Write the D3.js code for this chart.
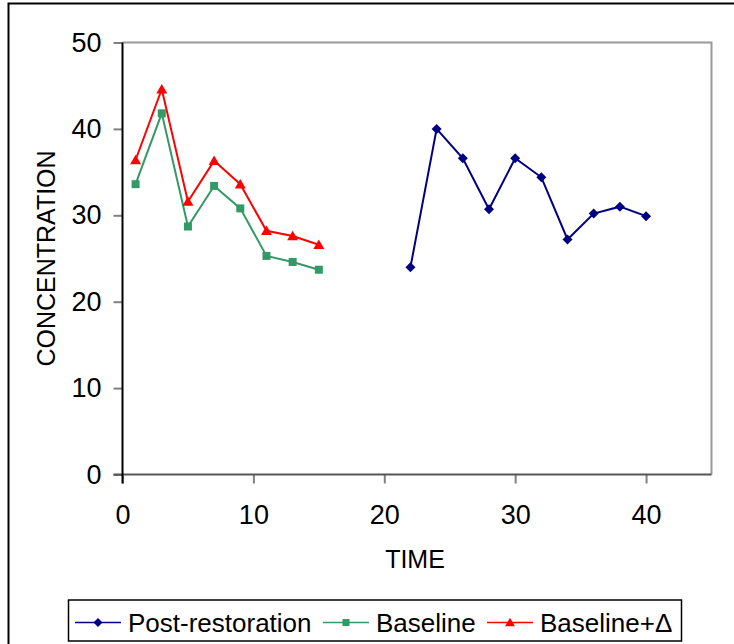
<!DOCTYPE html>
<html>
<head>
<meta charset="utf-8">
<script src="https://cdn.jsdelivr.net/npm/d3@7"></script>
<style>
  html, body { margin: 0; padding: 0; background: #fff; }
  svg { display: block; font-family: "Liberation Sans", Arial, sans-serif; }
</style>
</head>
<body>
<svg id="chart" width="734" height="644"></svg>
<script>
// ---- data ----
const postTime = [22, 24, 26, 28, 30, 32, 34, 36, 38, 40];
const postValues = [24.0, 40.0, 36.6, 30.7, 36.6, 34.4, 27.2, 30.2, 31.0, 29.9];
const baseTime = [1, 3, 5, 7, 9, 11, 13, 15];
const baseValues = [33.6, 41.8, 28.7, 33.4, 30.8, 25.3, 24.6, 23.7];
const deltaValues = [36.4, 44.6, 31.6, 36.3, 33.6, 28.2, 27.6, 26.6];
const xTicks = [0, 10, 20, 30, 40];
const yTicks = [0, 10, 20, 30, 40, 50];
const seriesNames = ["Post-restoration", "Baseline", "Baseline+\u0394"];

// ---- layout ----
const svg = d3.select("#chart");
const x = d3.scaleLinear().domain([0, 45]).range([122.5, 711.5]);
const y = d3.scaleLinear().domain([0, 50]).range([474.5, 42.5]);

// outer frame (extends past the window on right/bottom)
svg.append("rect").attr("x", 8.5).attr("y", 3.5).attr("width", 900).attr("height", 900)
  .attr("fill", "none").attr("stroke", "#000").attr("stroke-width", 2);

// plot area top & right borders
svg.append("path")
  .attr("d", `M${x(0)},${y(50)}H${x(45)}V${y(0)}`)
  .attr("fill", "none").attr("stroke", "#999").attr("stroke-width", 2);

// y axis
const yAxis = d3.axisLeft(y).tickValues(yTicks).tickSize(9).tickPadding(12).tickFormat(d3.format("d"));
const gy = svg.append("g").attr("transform", `translate(${x(0)},0)`).call(yAxis);
gy.select(".domain").remove();
gy.selectAll(".tick line").attr("stroke", "#808080").attr("stroke-width", 2);
gy.selectAll(".tick text").attr("font-size", 27).attr("fill", "#000")
  .attr("font-family", "Liberation Sans, Arial, sans-serif");

// x axis
const xAxis = d3.axisBottom(x).tickValues(xTicks).tickSize(9).tickPadding(21).tickFormat(d3.format("d"));
const gx = svg.append("g").attr("transform", `translate(0,${y(0)})`).call(xAxis);
gx.select(".domain").remove();
gx.selectAll(".tick line").attr("stroke", "#808080").attr("stroke-width", 2);
gx.selectAll(".tick text").attr("font-size", 27).attr("fill", "#000")
  .attr("font-family", "Liberation Sans, Arial, sans-serif");

// axis lines
svg.append("line").attr("x1", x(0) - 9).attr("x2", x(45)).attr("y1", y(0)).attr("y2", y(0))
  .attr("stroke", "#555").attr("stroke-width", 2);
svg.append("line").attr("x1", x(0)).attr("x2", x(0)).attr("y1", y(50)).attr("y2", y(0) + 9)
  .attr("stroke", "#000").attr("stroke-width", 2);

// axis titles
svg.append("text").attr("x", (x(0) + x(45)) / 2 - 2).attr("y", 568)
  .attr("text-anchor", "middle").attr("font-size", 25).text("TIME");
svg.append("text").attr("transform", `translate(55,${(y(0) + y(50)) / 2}) rotate(-90)`)
  .attr("text-anchor", "middle").attr("font-size", 25).text("CONCENTRATION");

// marker shapes
const diamond = s => `M0,${-s}L${s},0L0,${s}L${-s},0Z`;
const square = s => `M${-s},${-s}H${s}V${s}H${-s}Z`;
const triangle = s => `M0,${-s * 1.05}L${s * 1.1},${s * 0.85}H${-s * 1.1}Z`;

const series = [
  { name: seriesNames[1], xs: baseTime, ys: baseValues, color: "#339966", shape: square, size: 4 },
  { name: seriesNames[2], xs: baseTime, ys: deltaValues, color: "#ff0000", shape: triangle, size: 5 },
  { name: seriesNames[0], xs: postTime, ys: postValues, color: "#000080", shape: diamond, size: 5 }
];

const line = d3.line().x(d => x(d[0])).y(d => y(d[1]));
series.forEach(s => {
  const pts = s.xs.map((t, i) => [t, s.ys[i]]);
  svg.append("path").datum(pts).attr("d", line)
    .attr("fill", "none").attr("stroke", s.color).attr("stroke-width", 2);
  svg.append("g").selectAll("path").data(pts).join("path")
    .attr("transform", d => `translate(${x(d[0])},${y(d[1])})`)
    .attr("d", s.shape(s.size)).attr("fill", s.color);
});

// legend
const lg = svg.append("g");
lg.append("rect").attr("x", 68.5).attr("y", 600).attr("width", 613).attr("height", 41)
  .attr("fill", "#fff").attr("stroke", "#000").attr("stroke-width", 1.5);
const legendItems = [
  { name: seriesNames[0], color: "#000080", shape: diamond, size: 4.5, x0: 75 },
  { name: seriesNames[1], color: "#339966", shape: square, size: 3.5, x0: 323 },
  { name: seriesNames[2], color: "#ff0000", shape: triangle, size: 4.5, x0: 487 }
];
const ly = 622.5;
legendItems.forEach(it => {
  lg.append("line").attr("x1", it.x0).attr("x2", it.x0 + 46).attr("y1", ly).attr("y2", ly)
    .attr("stroke", it.color).attr("stroke-width", 1.5);
  lg.append("path").attr("transform", `translate(${it.x0 + 23},${ly})`)
    .attr("d", it.shape(it.size)).attr("fill", it.color);
  lg.append("text").attr("x", it.x0 + 53).attr("y", ly + 9.5)
    .attr("font-size", 26).text(it.name);
});
</script>
</body>
</html>
